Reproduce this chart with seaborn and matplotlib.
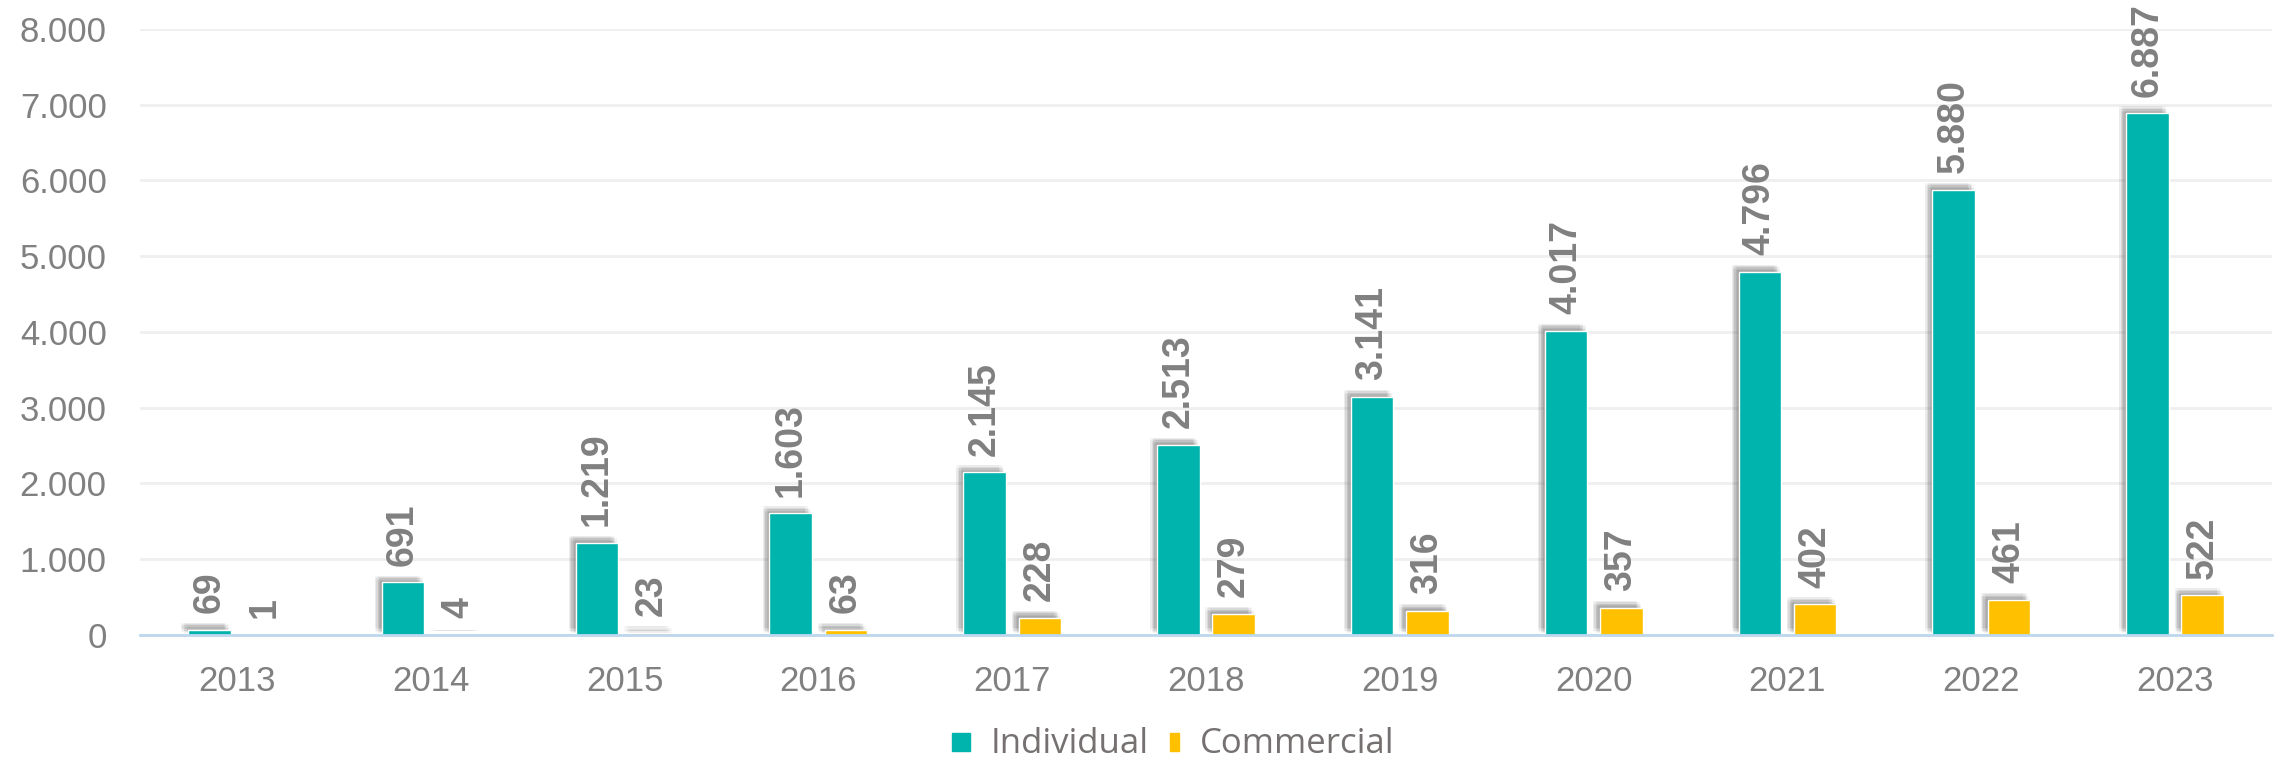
import pandas as pd
import matplotlib.pyplot as plt
import matplotlib.patheffects as pe
from matplotlib.legend_handler import HandlerPatch
from matplotlib.ticker import FuncFormatter
import seaborn as sns

years = ['2013', '2014', '2015', '2016', '2017', '2018', '2019', '2020', '2021', '2022', '2023']
individual = [69, 691, 1219, 1603, 2145, 2513, 3141, 4017, 4796, 5880, 6887]
commercial = [1, 4, 23, 63, 228, 279, 316, 357, 402, 461, 522]
series = ['Individual', 'Commercial']
colors = ['#00B4AE', '#FFC000']

df = pd.DataFrame({
    'Year': years * 2,
    'Value': individual + commercial,
    'Type': ['Individual'] * len(years) + ['Commercial'] * len(years),
})


def dotted(v):
    return f'{int(v):,}'.replace(',', '.')


sns.set_style('white')
plt.rcParams['font.family'] = ['Liberation Sans', 'DejaVu Sans']

fig = plt.figure(figsize=(22.8, 7.63), dpi=100)
ax = fig.add_axes([0.0614, 0.168, 0.9351, 0.794])

sns.barplot(data=df, x='Year', y='Value', hue='Type', hue_order=series,
            palette=colors, width=0.57, gap=0.23, saturation=1,
            legend=False, ax=ax)

# soft shadow up-left of the bars (many faint layers to fake a blur)
offs = [(-1, 1), (-2, 2), (-3, 3), (-4, 2), (-2, 4), (-4, 4), (-5, 3), (-3, 5), (-5, 5), (-1, 3), (-3, 1)]
shadow = [pe.SimplePatchShadow(offset=o, shadow_rgbFace='#444444', alpha=0.05) for o in offs]
shadow.append(pe.Normal())
for patch in ax.patches:
    patch.set_path_effects(shadow)

for cont in ax.containers:
    ax.bar_label(cont, labels=[dotted(v) for v in cont.datavalues],
                 rotation=90, padding=12, fontsize=27, fontweight='bold',
                 color='#808080')

ax.set_ylim(0, 8000)
ax.set_xlim(-0.5, 10.5)
ax.set_yticks(range(0, 8001, 1000))
ax.yaxis.set_major_formatter(FuncFormatter(lambda v, p: dotted(v)))
ax.grid(axis='y', color='#EFEFEF', linewidth=2)
ax.set_axisbelow(True)
for s in ['left', 'right', 'top']:
    ax.spines[s].set_visible(False)
ax.spines['bottom'].set_color('#BDD7EE')
ax.spines['bottom'].set_linewidth(2)
ax.tick_params(axis='both', length=0, labelsize=25, labelcolor='#808080')
ax.tick_params(axis='y', pad=24)
ax.tick_params(axis='x', pad=22)
ax.set_xlabel('')
ax.set_ylabel('')


def legend_box(legend, orig_handle, xdescent, ydescent, width, height, fontsize):
    # commercial marker is drawn half as wide, flush right
    w = width if orig_handle.get_label() == 'Individual' else width / 2
    return plt.Rectangle((width - w - xdescent, -ydescent), w, width)


handles = [plt.Rectangle((0, 0), 1, 1, color=c, label=s) for c, s in zip(colors, series)]
fig.legend(handles, series, loc='center', bbox_to_anchor=(0.5145, 0.025), ncol=2,
           frameon=False, prop={'family': 'Open Sans', 'size': 25},
           labelcolor='#767171', handlelength=0.52, handleheight=0.52,
           handletextpad=0.6, columnspacing=0.35,
           handler_map={plt.Rectangle: HandlerPatch(patch_func=legend_box)})

fig.savefig('out.png', dpi=100)
